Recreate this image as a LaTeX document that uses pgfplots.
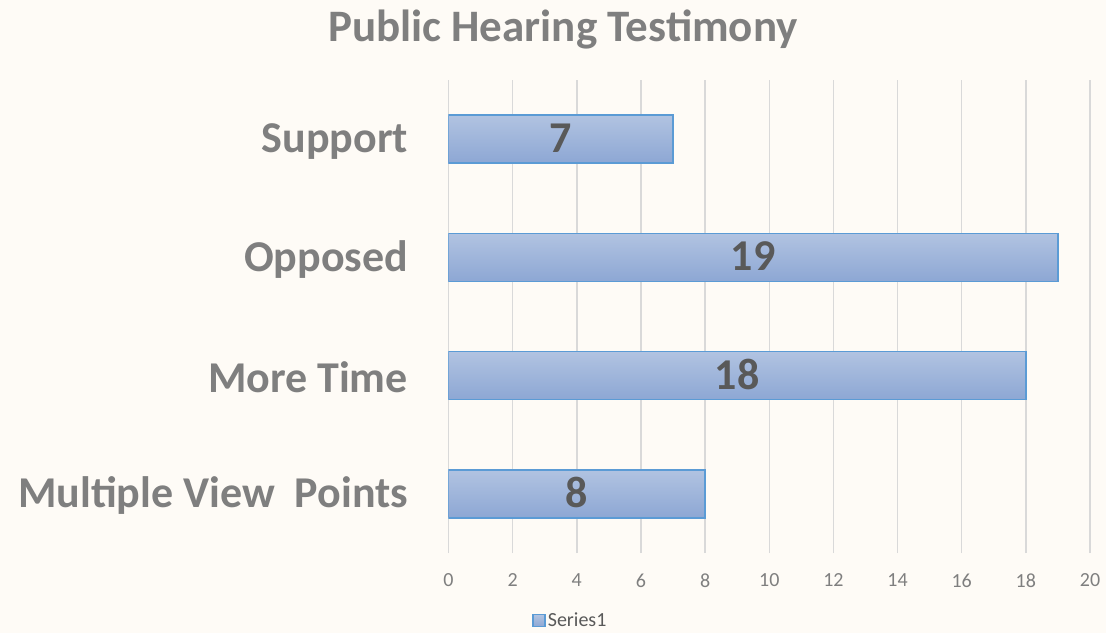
\documentclass[border=0pt]{standalone}
\usepackage{pgfplots}
\pgfplotsset{compat=1.18}
\usepackage{fontspec}
\setmainfont{Carlito}
\definecolor{bgc}{HTML}{FEFBF6}
\definecolor{txtg}{HTML}{7F7F7F}
\definecolor{numg}{HTML}{595959}
\definecolor{gridc}{HTML}{D9D9D9}
\definecolor{bartop}{HTML}{B1C3E1}
\definecolor{barbot}{HTML}{8DA7D4}
\definecolor{bardraw}{HTML}{5B9BD5}
\begin{document}
\begin{tikzpicture}
\fill[bgc] (0,0) rectangle (1106pt,633pt);
\useasboundingbox (0,0) rectangle (1106pt,633pt);
\node[text=txtg, font=\fontsize{45}{54}\selectfont\bfseries] at (563pt,604pt) {Public Hearing Testimony};
\begin{axis}[
  at={(448.5pt,80pt)}, anchor=south west,
  scale only axis, width=641.5pt, height=473pt,
  xmin=0, xmax=20, ymin=-0.5, ymax=3.5,
  xtick={0,2,...,20},
  ytick={0,1,2,3},
  yticklabels={Multiple View\ \ Points, More Time, Opposed, Support},
  extra y ticks={-0.5,0.5,1.5,2.5,3.5},
  extra y tick labels={},
  extra y tick style={major tick length=14pt, tick align=outside, tick style={draw=gridc, line width=1.5pt}, grid=none},
  ytick style={draw=none},
  xtick style={draw=none},
  xmajorgrids, grid style={draw=gridc, line width=1.5pt},
  axis line style={draw=none},
  /pgf/number format/assume math mode=true,
  xticklabel style={text=txtg, font=\fontsize{20}{24}\selectfont, yshift=-17pt},
  yticklabel style={text=txtg, font=\fontsize{44}{52}\selectfont\bfseries, xshift=-37pt, yshift=-2pt},
  legend style={at={(0.19,-0.143)}, anchor=center, draw=none, fill=none, font=\fontsize{20}{23}\selectfont, text=numg, inner sep=0pt},
  legend image code/.code={\draw[#1] (0pt,-6pt) rectangle (12pt,6pt);},
  mybar/.style={xbar, bar shift=0pt, bar width=0.405, draw=bardraw, line width=1.5pt, top color=bartop, bottom color=barbot,
  visualization depends on={x \as \rawx},
  nodes near coords,
  every node near coord/.append style={anchor=center, shift={(axis direction cs:-\rawx/2,0)}, text=numg, font=\fontsize{44}{50}\selectfont\bfseries, yshift=1pt}},
]
\addplot[mybar] coordinates {(8,0)};
\addlegendentry{Series1}
\addplot[mybar, forget plot] coordinates {(18,1)};
\addplot[mybar, forget plot] coordinates {(19,2)};
\addplot[mybar, forget plot] coordinates {(7,3)};
\end{axis}
\end{tikzpicture}
\end{document}
